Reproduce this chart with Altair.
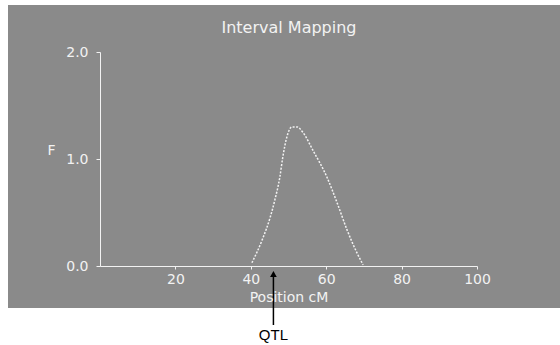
import altair as alt
import pandas as pd

# Data
position_cm = [40.3, 43.2, 45.1, 46.4, 47.7, 48.5, 49.6, 50.9, 52.3, 53.8, 56.5, 60.2, 62.9, 65.5, 68.2, 69.8]
f_value =     [0.03, 0.26, 0.45, 0.62, 0.83, 1.02, 1.21, 1.30, 1.30, 1.25, 1.08, 0.83, 0.59, 0.34, 0.12, 0.01]
x_ticks = [20, 40, 60, 80, 100]
y_ticks = [0, 1, 2]
qtl_position = 46
qtl_label = "QTL"
chart_title = "Interval Mapping"

curve = pd.DataFrame({"pos": position_cm, "F": f_value})
one = pd.DataFrame({"k": [0]})

FONT = "DejaVu Sans"
WHITE = "#f2f2f2"
GRAY = "#8a8a8a"

xscale = alt.Scale(domain=[0, 100], nice=False, zero=True)
yscale = alt.Scale(domain=[0, 2], nice=False)

bg = alt.Chart(one).mark_rect(color=GRAY).encode(
    x=alt.value(-92), x2=alt.value(460), y=alt.value(-47), y2=alt.value(256)
)

title = alt.Chart(one).mark_text(text=chart_title, font=FONT, fontSize=16, color=WHITE,
                                 baseline="middle", align="center").encode(
    x=alt.value(189), y=alt.value(-24)
)

line = alt.Chart(curve).mark_line(color=WHITE, strokeWidth=1.5, strokeDash=[2, 1.5],
                                  interpolate="monotone").encode(
    x=alt.X("pos:Q", scale=xscale,
            axis=alt.Axis(values=x_ticks, format="d", title="Position cM", labelFont=FONT,
                          labelFontSize=14, labelColor=WHITE, domainColor=WHITE, tickColor=WHITE,
                          tickSize=3, labelPadding=3, titleFont=FONT, titleFontSize=14,
                          titleFontWeight="normal", titleColor=WHITE, titlePadding=4,
                          grid=False, zindex=1, labelFlush=False)),
    y=alt.Y("F:Q", scale=yscale,
            axis=alt.Axis(values=y_ticks, format=".1f", title="F", labelFont=FONT,
                          labelFontSize=14, labelColor=WHITE, domainColor=WHITE, tickColor=WHITE,
                          tickSize=4, labelPadding=8, titleFont=FONT, titleFontSize=14,
                          titleFontWeight="normal", titleColor=WHITE, titleAngle=0,
                          titleX=-49, titleY=98, titleAlign="center", titleBaseline="middle",
                          grid=False, zindex=1, labelFlush=False)),
)

arrow = alt.Chart(one).mark_rule(color="black", strokeWidth=1.5).encode(
    x=alt.datum(qtl_position, scale=xscale), y=alt.value(222), y2=alt.value(273)
)
head = alt.Chart(one).mark_point(shape="triangle-up", filled=True, color="black", size=45, opacity=1).encode(
    x=alt.datum(qtl_position, scale=xscale), y=alt.value(222)
)
label = alt.Chart(one).mark_text(text=qtl_label, font="Liberation Sans", fontSize=15, color="black",
                                 baseline="middle").encode(
    x=alt.datum(qtl_position, scale=xscale), y=alt.value(283)
)

chart = alt.layer(bg, title, line, arrow, head, label).properties(
    width=377, height=214,
    padding={"left": 100, "top": 52, "right": 83, "bottom": 79},
    autosize=alt.AutoSizeParams(type="none"),
    background="white",
).configure_view(stroke=None)

chart.save("out.html", embed_options={"renderer": "svg", "actions": False})
